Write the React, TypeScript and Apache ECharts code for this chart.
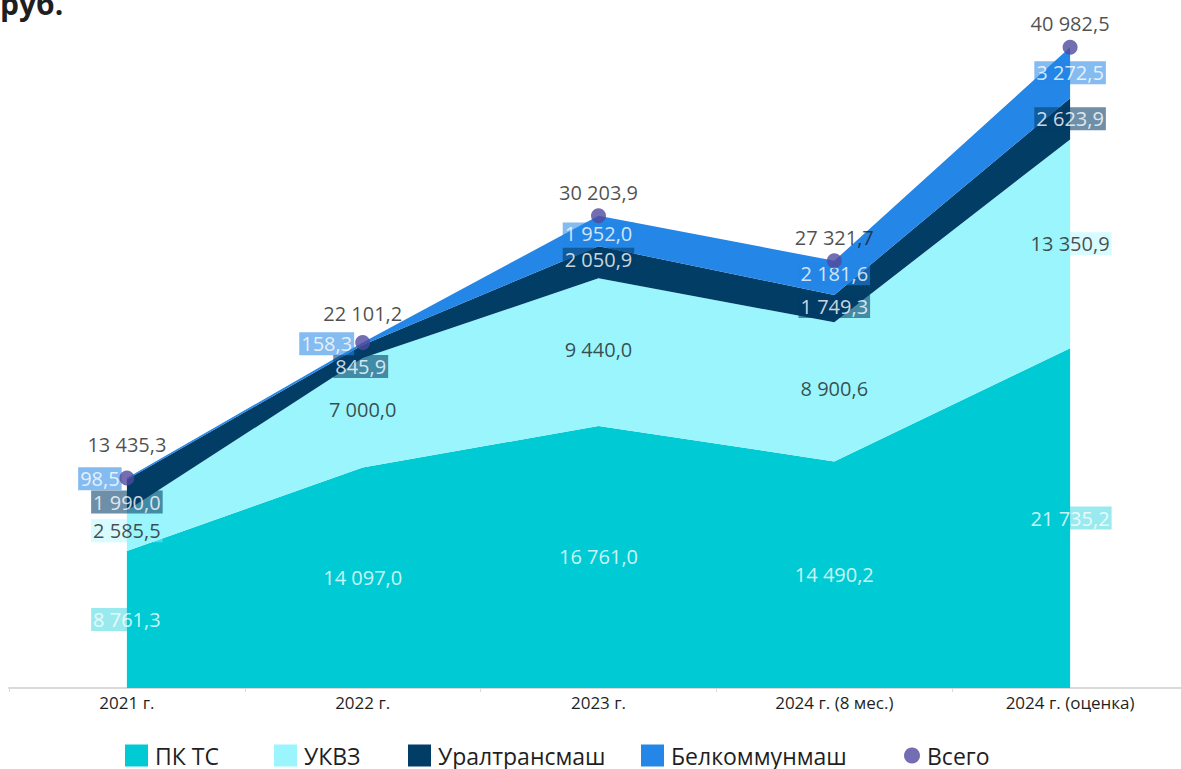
import React, { useEffect, useRef } from "react";
import * as echarts from "echarts";

const categories = ["2021 г.", "2022 г.", "2023 г.", "2024 г. (8 мес.)", "2024 г. (оценка)"];
const pkts = [8761.3, 14097.0, 16761.0, 14490.2, 21735.2];
const ukvz = [2585.5, 7000.0, 9440.0, 8900.6, 13350.9];
const uraltransmash = [1990.0, 845.9, 2050.9, 1749.3, 2623.9];
const belkommunmash = [98.5, 158.3, 1952.0, 2181.6, 3272.5];
const totals = [13435.3, 22101.2, 30203.9, 27321.7, 40982.5];

const seriesNames = ["ПК ТС", "УКВЗ", "Уралтрансмаш", "Белкоммунмаш"];
const totalName = "Всего";
const colors = ["#00CBD4", "#9AF5FC", "#023D66", "#2486E6"];
const labelBg = [
  "rgba(0,203,212,0.5)",
  "rgba(154,245,252,0.5)",
  "rgba(2,61,102,0.72)",
  "rgba(36,134,230,0.7)",
];
const labelColor = ["#ffffff", "#1f1f1f", "#ffffff", "#ffffff"];
// per-point label nudges [dx, dy]
const labelOffsets = [
  [[0, 0], [0, 0], [0, 0], [0, 0], [0, 0]],
  [[0, 0], [0, -3], [0, -3], [0, -3], [0, 0]],
  [[0, 7], [-2, 15], [0, -3], [0, -2], [0, 0]],
  [[-27, 0], [-36, 0], [0, 3], [0, -4], [0, 0]],
];
const totalOffsets = [[0, -10], [0, -5], [0, 0], [0, 0], [0, 0]];
const legendLefts = [125, 274, 408, 641, 904];

const fmt = (v: number) => {
  const [i, d] = v.toFixed(1).split(".");
  return i.replace(/\B(?=(\d{3})+(?!\d))/g, " ") + "," + d;
};

const FONT = "Open Sans";

export default function App() {
  const ref = useRef<HTMLDivElement>(null);
  useEffect(() => {
    if (!ref.current) return;
    const chart = echarts.init(ref.current, null, { renderer: "svg" });
    const all = [pkts, ukvz, uraltransmash, belkommunmash];
    const areaSeries = all.map((arr, si) => ({
      name: seriesNames[si],
      type: "line",
      stack: "total",
      data: arr,
      symbol: "none",
      lineStyle: { width: 0 },
      areaStyle: { color: colors[si], opacity: 1 },
      itemStyle: { color: colors[si] },
      z: 2,
    }));
    const labelSeries = all.map((arr, si) => ({
      name: "lbl" + si,
      type: "scatter",
      symbolSize: 0,
      silent: true,
      z: 5,
      data: arr.map((v, i) => {
        let base = 0;
        for (let k = 0; k < si; k++) base += all[k][i];
        return {
          value: [i, base + v / 2],
          label: { offset: labelOffsets[si][i] },
        };
      }),
      label: {
        show: true,
        position: "inside",
        formatter: (p: any) => fmt(all[si][p.dataIndex]),
        color: labelColor[si],
        backgroundColor: labelBg[si],
        fontFamily: FONT,
        fontSize: 20,
        padding: [0, 2, 0, 2],
        lineHeight: 23,
      },
    }));
    const legendNames = [...seriesNames, totalName];
    const legends = legendNames.map((n, i) => ({
      data: [{ name: n, icon: i === 4 ? "circle" : "rect" }],
      left: legendLefts[i],
      top: 744,
      padding: 0,
      itemWidth: i === 4 ? 16 : 23,
      itemHeight: 22,
      textStyle: {
        fontFamily: FONT,
        fontSize: 23,
        lineHeight: 22,
        color: "#1f1f1f",
        padding: [0, 0, 0, i === 4 ? 2 : 2],
      },
    }));
    chart.setOption({
      animation: false,
      grid: { left: 9, right: 12, top: 0, bottom: 81 },
      graphic: [
        {
          type: "text",
          left: 0,
          top: -12,
          style: {
            text: "руб.",
            font: `bold 30px "${FONT}"`,
            fill: "#1f1f1f",
          },
        },
      ],
      legend: legends,
      xAxis: {
        type: "category",
        data: categories,
        boundaryGap: true,
        axisLine: { lineStyle: { color: "#d9d9d9", width: 2 } },
        axisTick: { show: true, length: 4, lineStyle: { color: "#d9d9d9" } },
        axisLabel: { fontFamily: FONT, fontSize: 17, color: "#1f1f1f", margin: 6 },
      },
      yAxis: { type: "value", show: false, min: 0, max: 44000, splitLine: { show: false } },
      series: [
        ...areaSeries,
        ...labelSeries,
        {
          name: totalName,
          type: "scatter",
          data: totals.map((v, i) => ({ value: [i, v], label: { offset: totalOffsets[i] } })),
          symbol: "circle",
          symbolSize: 15,
          itemStyle: { color: "#504A9E" },
          z: 6,
          label: {
            show: true,
            position: "top",
            distance: 6,
            formatter: (p: any) => fmt(totals[p.dataIndex]),
            color: "#1f1f1f",
            fontFamily: FONT,
            fontSize: 20,
          },
        },
      ],
    });
    return () => chart.dispose();
  }, []);
  return (
    <div style={{ position: "fixed", left: 0, top: 0, width: 1181, height: 769, overflow: "hidden", background: "#fff" }}>
      <div ref={ref} style={{ width: 1200, height: 769 }} />
    </div>
  );
}
